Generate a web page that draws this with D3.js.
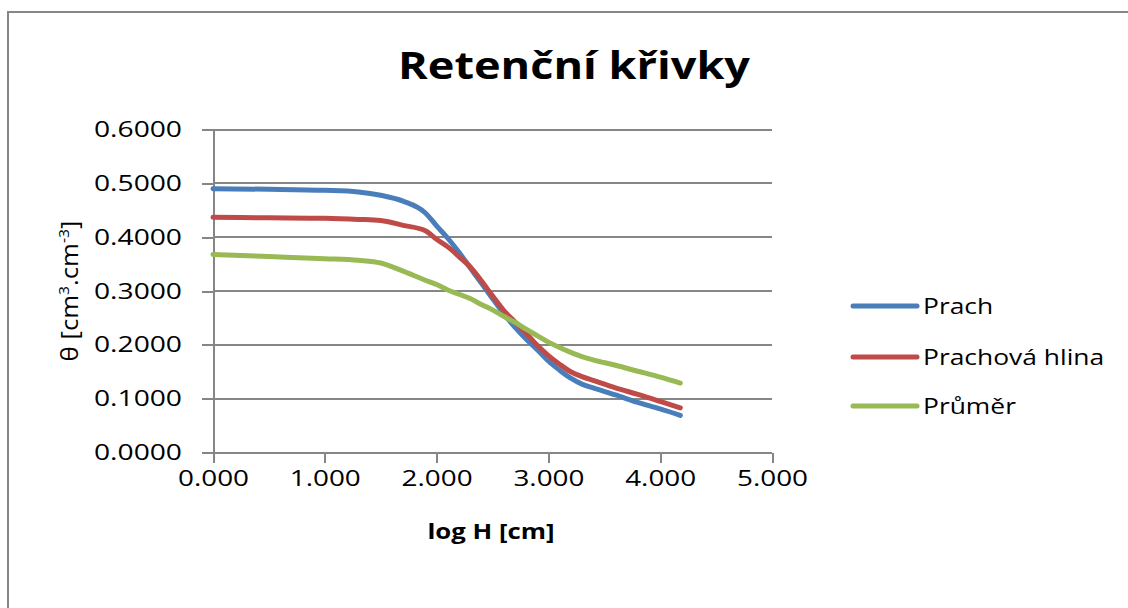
<!DOCTYPE html>
<html>
  <head>
    <meta charset="utf-8">
    <title>Retenční křivky</title>
    <style>
      body { margin: 0; background: #fff; }
      text { font-family: "Open Sans", "DejaVu Sans", sans-serif; fill: #000; }
      .grid line { stroke: #868686; stroke-width: 2px; shape-rendering: crispEdges; }
      .axis path, .axis line { stroke: #868686; stroke-width: 2px; shape-rendering: crispEdges; }
      .series { fill: none; stroke-width: 5px; stroke-linejoin: round; stroke-linecap: round; }
    </style>
  </head>
  <body>
    <script src="https://d3js.org/d3.v7.min.js"></script>
    <script>
      // log H [cm]
      var logH = [0, 0.5, 1.0, 1.3, 1.5, 1.7, 1.9, 2.0, 2.1, 2.2, 2.3, 2.4, 2.5,
                  2.6, 2.7, 2.8, 2.9, 3.0, 3.1, 3.2, 3.3, 3.4, 3.6, 3.8, 4.0, 4.18];

      var prach = [0.490, 0.489, 0.487, 0.484, 0.478, 0.467, 0.445, 0.421, 0.398, 0.372, 0.343, 0.315, 0.286,
                   0.258, 0.233, 0.211, 0.191, 0.170, 0.153, 0.138, 0.127, 0.120, 0.107, 0.093, 0.081, 0.069];
      var prachovaHlina = [0.437, 0.436, 0.435, 0.433, 0.431, 0.422, 0.412, 0.396, 0.382, 0.364, 0.345, 0.319, 0.291,
                           0.264, 0.243, 0.222, 0.199, 0.180, 0.164, 0.150, 0.141, 0.134, 0.120, 0.108, 0.095, 0.083];
      var prumer = [0.368, 0.364, 0.360, 0.357, 0.352, 0.337, 0.320, 0.312, 0.302, 0.294, 0.286, 0.275, 0.265,
                    0.253, 0.242, 0.229, 0.217, 0.205, 0.195, 0.186, 0.178, 0.172, 0.162, 0.151, 0.140, 0.129];

      var seriesNames = ["Prach", "Prachová hlina", "Průměr"];
      var seriesColors = ["#4a7ebb", "#be4b48", "#98b954"];
      var xTicks = [0, 1, 2, 3, 4, 5];
      var yTicks = [0, 0.1, 0.2, 0.3, 0.4, 0.5, 0.6];

      var W = 1128, H = 608;
      var stretch = 1.2; // the original text is a bit wider than the font

      var svg = d3.select("body").append("svg")
        .attr("width", W)
        .attr("height", H);

      // chart frame (right/bottom edges run off the picture)
      svg.append("rect")
        .attr("x", 8).attr("y", 12)
        .attr("width", 1130).attr("height", 620)
        .attr("fill", "#fff")
        .attr("stroke", "#868686")
        .attr("stroke-width", 2);

      var x = d3.scaleLinear().domain([0, 5]).range([213, 772]);
      var y = d3.scaleLinear().domain([0, 0.6]).range([452.5, 129.5]);

      // gridlines
      svg.append("g").attr("class", "grid")
        .selectAll("line")
        .data(yTicks.filter(function(d) { return d > 0; }))
        .enter().append("line")
          .attr("x1", x(0)).attr("x2", x(5))
          .attr("y1", function(d) { return Math.round(y(d)); })
          .attr("y2", function(d) { return Math.round(y(d)); });

      var yAxis = svg.append("g")
        .attr("class", "axis")
        .attr("transform", "translate(" + x(0) + ",0)")
        .call(d3.axisLeft(y).tickValues(yTicks).tickSizeInner(11).tickSizeOuter(0).tickPadding(20)
          .tickFormat(d3.format(".4f")));
      yAxis.selectAll("text")
        .style("font-size", "22px")
        .attr("textLength", 88)
        .attr("lengthAdjust", "spacingAndGlyphs");

      var xAxis = svg.append("g")
        .attr("class", "axis")
        .attr("transform", "translate(0," + y(0) + ")")
        .call(d3.axisBottom(x).tickValues(xTicks).tickSizeInner(10).tickSizeOuter(0).tickPadding(8)
          .tickFormat(d3.format(".3f")));
      xAxis.selectAll("text")
        .style("font-size", "22px")
        .attr("textLength", 71)
        .attr("lengthAdjust", "spacingAndGlyphs");
      // x axis line also reaches left to the tick at 0
      xAxis.select(".domain").attr("d", "M" + (x(0) - 11) + ",0H" + x(5));

      // series lines
      var allSeries = [prach, prachovaHlina, prumer];
      var line = d3.line()
        .x(function(d) { return x(d[0]); })
        .y(function(d) { return y(d[1]); })
        .curve(d3.curveMonotoneX);

      svg.append("g").selectAll("path")
        .data(allSeries)
        .enter().append("path")
          .attr("class", "series")
          .attr("stroke", function(d, i) { return seriesColors[i]; })
          .attr("d", function(vals) { return line(vals.map(function(v, j) { return [logH[j], v]; })); });

      // title
      svg.append("text")
        .attr("x", 574).attr("y", 79)
        .attr("text-anchor", "middle")
        .style("font-size", "38px")
        .style("font-weight", "bold")
        .attr("textLength", 352)
        .attr("lengthAdjust", "spacingAndGlyphs")
        .text("Retenční křivky");

      // axis titles
      svg.append("text")
        .attr("x", 491).attr("y", 539)
        .attr("text-anchor", "middle")
        .style("font-size", "22px")
        .style("font-weight", "bold")
        .attr("textLength", 127)
        .attr("lengthAdjust", "spacingAndGlyphs")
        .text("log H [cm]");

      var yt = svg.append("g")
        .attr("transform", "translate(78,291) rotate(-90) scale(1.12,1)")
        .append("text")
        .attr("text-anchor", "middle")
        .style("font-size", "23px");
      yt.append("tspan").text("θ [cm");
      yt.append("tspan").attr("dy", -9).style("font-size", "14px").text("3");
      yt.append("tspan").attr("dy", 9).text(".cm");
      yt.append("tspan").attr("dy", -9).style("font-size", "14px").text("-3");
      yt.append("tspan").attr("dy", 9).text("]");

      // legend
      var legendY = [306, 357, 406];
      var legend = svg.append("g").selectAll("g")
        .data(seriesNames)
        .enter().append("g")
          .attr("transform", function(d, i) { return "translate(853," + legendY[i] + ")"; });
      legend.append("line")
        .attr("x1", 0).attr("x2", 64)
        .attr("stroke", function(d, i) { return seriesColors[i]; })
        .attr("stroke-width", 5)
        .attr("stroke-linecap", "round");
      legend.append("text")
        .attr("x", 70).attr("y", 8)
        .style("font-size", "22px")
        .text(function(d) { return d; })
        .attr("textLength", function() { return this.getComputedTextLength() * stretch; })
        .attr("lengthAdjust", "spacingAndGlyphs");
    </script>
  </body>
</html>
